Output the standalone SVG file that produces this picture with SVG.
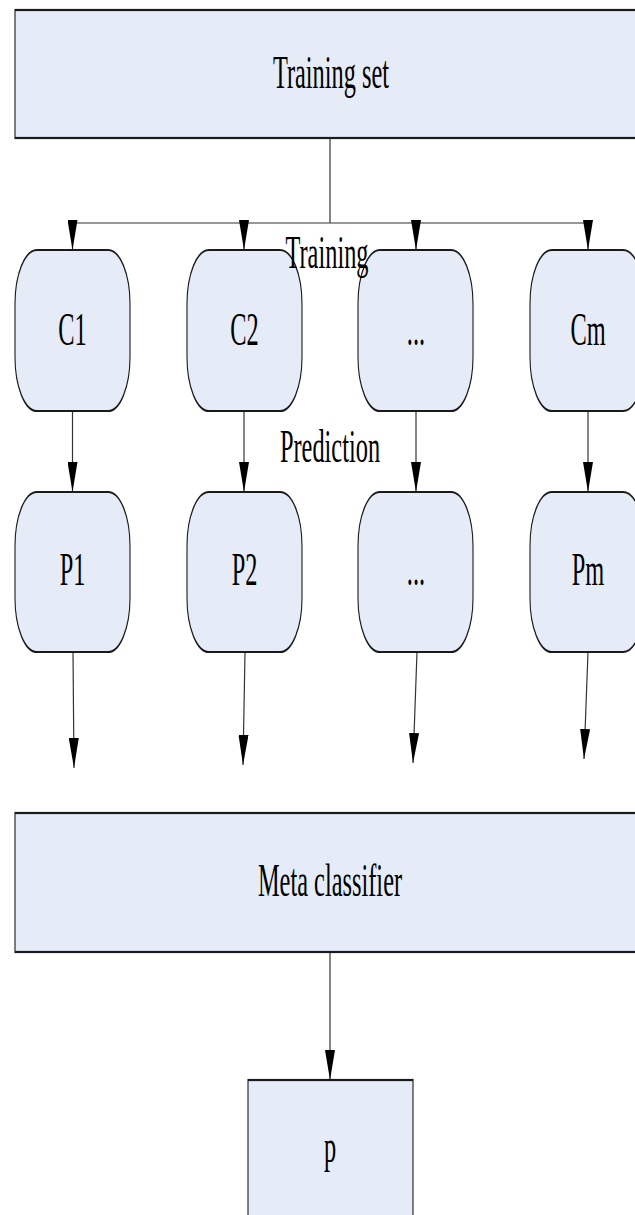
<svg xmlns="http://www.w3.org/2000/svg" width="635" height="1215" viewBox="0 0 635 1215">
<style>
.box{fill:#E5ECF7;stroke:#1a1a1a;stroke-width:2.2}
.lbl{font-family:"Liberation Serif","Times New Roman",serif;font-size:46px;fill:#000;text-anchor:middle}
.con{stroke:#333;stroke-width:1.2;fill:none}
.arr{marker-end:url(#ah)}
</style>
<defs>
<marker id="ah" markerUnits="userSpaceOnUse" viewBox="0 0 30 10" markerWidth="30" markerHeight="10" refX="30" refY="5" orient="auto">
<path d="M0,0 L30,5 L0,10 z" fill="#000"/>
</marker>
</defs>
<rect width="635" height="1215" fill="#fff"/>
<g id="training-set">
<rect class="box" transform="scale(0.5,1)" x="30" y="10" width="1280" height="128"/>
<text class="lbl" transform="translate(331,88) scale(0.53,1)">Training set</text>
</g>
<g id="connectors">
<line class="con" x1="330" y1="138" x2="330" y2="223"/>
<line class="con" x1="72.5" y1="223" x2="588" y2="223" stroke-width="1.8"/>
<line class="con arr" x1="72.5" y1="223" x2="72.5" y2="250"/>
<line class="con arr" x1="244" y1="223" x2="244" y2="250"/>
<line class="con arr" x1="416" y1="223" x2="416" y2="250"/>
<line class="con arr" x1="588" y1="223" x2="588" y2="250"/>
<line class="con arr" x1="72.5" y1="411" x2="72.5" y2="492"/>
<line class="con arr" x1="244" y1="411" x2="244" y2="492"/>
<line class="con arr" x1="416" y1="411" x2="416" y2="492"/>
<line class="con arr" x1="588" y1="411" x2="588" y2="492"/>
<line class="con arr" x1="73" y1="652" x2="74" y2="768"/>
<line class="con arr" x1="245" y1="652" x2="243" y2="765"/>
<line class="con arr" x1="417" y1="652" x2="413" y2="763"/>
<line class="con arr" x1="588" y1="652" x2="584" y2="759"/>
<line class="con arr" x1="330" y1="952" x2="330" y2="1080"/>
</g>
<g id="c1"><rect class="box" transform="scale(0.5,1)" x="30" y="250" width="230" height="161" rx="44" ry="54"/><text class="lbl" transform="translate(72.5,345) scale(0.53,1)">C1</text></g>
<g id="c2"><rect class="box" transform="scale(0.5,1)" x="374" y="250" width="230" height="161" rx="44" ry="54"/><text class="lbl" transform="translate(244.5,345) scale(0.53,1)">C2</text></g>
<g id="c-dots"><rect class="box" transform="scale(0.5,1)" x="716" y="250" width="230" height="161" rx="44" ry="54"/><text class="lbl" transform="translate(416,345) scale(0.53,1)">...</text></g>
<g id="cm"><rect class="box" transform="scale(0.5,1)" x="1060" y="250" width="230" height="161" rx="44" ry="54"/><text class="lbl" transform="translate(588,345) scale(0.53,1)">Cm</text></g>
<g id="label-training"><text class="lbl" transform="translate(327,268) scale(0.53,1)">Training</text></g>
<g id="label-prediction"><text class="lbl" transform="translate(330,462) scale(0.53,1)">Prediction</text></g>
<g id="p1"><rect class="box" transform="scale(0.5,1)" x="30" y="492" width="230" height="160" rx="44" ry="54"/><text class="lbl" transform="translate(72.5,585) scale(0.53,1)">P1</text></g>
<g id="p2"><rect class="box" transform="scale(0.5,1)" x="374" y="492" width="230" height="160" rx="44" ry="54"/><text class="lbl" transform="translate(244.5,585) scale(0.53,1)">P2</text></g>
<g id="p-dots"><rect class="box" transform="scale(0.5,1)" x="716" y="492" width="230" height="160" rx="44" ry="54"/><text class="lbl" transform="translate(416,585) scale(0.53,1)">...</text></g>
<g id="pm"><rect class="box" transform="scale(0.5,1)" x="1060" y="492" width="230" height="160" rx="44" ry="54"/><text class="lbl" transform="translate(588,585) scale(0.53,1)">Pm</text></g>
<g id="meta-classifier">
<rect class="box" transform="scale(0.5,1)" x="30" y="813" width="1280" height="139"/>
<text class="lbl" transform="translate(330,896) scale(0.53,1)">Meta classifier</text>
</g>
<g id="p">
<rect class="box" transform="scale(0.5,1)" x="496" y="1080" width="330" height="160"/>
<text class="lbl" transform="translate(330,1162) scale(0.53,1)">p</text>
</g>
</svg>
